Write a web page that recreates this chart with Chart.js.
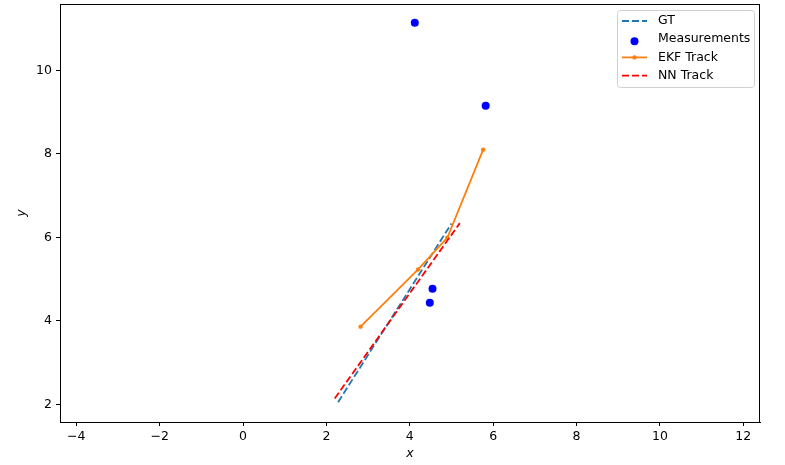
<!DOCTYPE html>
<html>
<head>
<meta charset="utf-8">
<script src="https://cdn.jsdelivr.net/npm/chart.js@4"></script>
<style>
  html, body { margin: 0; padding: 0; background: #fff; }
  #wrap { width: 785px; height: 465px; }
</style>
</head>
<body>
<div id="wrap"><canvas id="trackChart" width="785" height="465"></canvas></div>
<script>
// tick labels
const xTicks = [-4, -2, 0, 2, 4, 6, 8, 10, 12];
const yTicks = [2, 4, 6, 8, 10];

// series
const gtX = [2.28, 5.0];
const gtY = [2.05, 6.33];
const measX = [4.12, 5.82, 4.545, 4.48];
const measY = [11.14, 9.15, 4.77, 4.43];
const ekfX = [2.82, 4.20, 4.90, 5.76];
const ekfY = [3.86, 5.23, 5.99, 8.10];
const nnX = [2.20, 5.20];
const nnY = [2.14, 6.34];

const toPts = (xs, ys) => xs.map((x, i) => ({ x: x, y: ys[i] }));
const fmt = v => v < 0 ? '\u2212' + Math.abs(v) : String(v);

Chart.defaults.font.family = 'DejaVu Sans';
Chart.defaults.font.size = 12.5;
Chart.defaults.color = '#000';

// box around the plot area + legend drawn inside, like matplotlib
const framePlugin = {
    id: 'frame',
    afterDraw(chart) {
        const { ctx, chartArea: a } = chart;
        ctx.save();
        ctx.strokeStyle = '#000';
        ctx.lineWidth = 1;
        ctx.strokeRect(a.left + 0.5, a.top + 0.5, a.right - a.left - 1, a.bottom - a.top);

        // legend
        const w = 137, h = 77;
        const bx = a.right - 6 - w, by = a.top + 6;
        ctx.beginPath();
        ctx.roundRect(bx + 0.5, by + 0.5, w, h, 3);
        ctx.fillStyle = 'rgba(255,255,255,0.8)';
        ctx.fill();
        ctx.strokeStyle = '#d0d0d0';
        ctx.stroke();

        ctx.font = '12.5px "DejaVu Sans"';
        ctx.textBaseline = 'middle';
        chart.data.datasets.forEach((ds, i) => {
            const y = by + 11 + i * 18.2;
            const x0 = bx + 5, x1 = bx + 30;
            if (ds.showLine) {
                ctx.beginPath();
                ctx.setLineDash(ds.borderDash || []);
                ctx.strokeStyle = ds.borderColor;
                ctx.lineWidth = ds.borderWidth;
                ctx.moveTo(x0, y);
                ctx.lineTo(x1, y);
                ctx.stroke();
                ctx.setLineDash([]);
            }
            if (ds.pointRadius > 0) {
                ctx.beginPath();
                ctx.fillStyle = ds.pointBackgroundColor;
                ctx.arc((x0 + x1) / 2, y + (ds.showLine ? 0 : 2), ds.pointRadius, 0, Math.PI * 2);
                ctx.fill();
            }
            ctx.fillStyle = '#000';
            ctx.fillText(ds.label, bx + 41, y);
        });
        ctx.restore();
    }
};

const ctx = document.getElementById('trackChart').getContext('2d');

new Chart(ctx, {
    type: 'scatter',
    data: {
        datasets: [
            {
                label: 'GT',
                data: toPts(gtX, gtY),
                showLine: true,
                borderColor: '#1f77b4',
                borderWidth: 1.8,
                borderDash: [7, 3],
                pointRadius: 0,
                order: 4
            },
            {
                label: 'Measurements',
                data: toPts(measX, measY),
                showLine: false,
                borderColor: '#0000ff',
                backgroundColor: '#0000ff',
                pointBackgroundColor: '#0000ff',
                pointBorderWidth: 0,
                pointRadius: 4,
                order: 3
            },
            {
                label: 'EKF Track',
                data: toPts(ekfX, ekfY),
                showLine: true,
                borderColor: '#ff7f0e',
                backgroundColor: '#ff7f0e',
                pointBackgroundColor: '#ff7f0e',
                pointBorderWidth: 0,
                borderWidth: 1.8,
                pointRadius: 2.2,
                order: 2
            },
            {
                label: 'NN Track',
                data: toPts(nnX, nnY),
                showLine: true,
                borderColor: '#ff0000',
                borderWidth: 1.8,
                borderDash: [7, 3],
                pointRadius: 0,
                order: 1
            }
        ]
    },
    options: {
        responsive: false,
        animation: false,
        devicePixelRatio: 1,
        layout: { padding: { left: 0, right: 25, top: 4, bottom: 0 } },
        plugins: {
            legend: { display: false },
            tooltip: { enabled: false }
        },
        scales: {
            x: {
                type: 'linear',
                min: -4.39,
                max: 12.40,
                afterBuildTicks: axis => { axis.ticks = xTicks.map(v => ({ value: v })); },
                afterFit: axis => { axis.height = 43; axis.paddingLeft = 0; axis.paddingRight = 0; },
                grid: { drawOnChartArea: false, drawTicks: true, tickLength: 4, color: '#000' },
                border: { display: true, color: '#000', width: 1 },
                ticks: { padding: 3, callback: fmt },
                title: {
                    display: true,
                    text: 'x',
                    font: { style: 'italic', size: 12.5 },
                    padding: { top: 0, bottom: 4 }
                }
            },
            y: {
                type: 'linear',
                min: 1.575,
                max: 11.59,
                afterBuildTicks: axis => { axis.ticks = yTicks.map(v => ({ value: v })); },
                afterFit: axis => { axis.width = 60; axis.paddingTop = 0; axis.paddingBottom = 0; },
                grid: { drawOnChartArea: false, drawTicks: true, tickLength: 4, color: '#000' },
                border: { display: true, color: '#000', width: 1 },
                ticks: { padding: 4, callback: fmt },
                title: {
                    display: true,
                    text: 'y',
                    font: { style: 'italic', size: 12.5 },
                    padding: { top: 14, bottom: 0 }
                }
            }
        }
    },
    plugins: [framePlugin]
});
</script>
</body>
</html>
